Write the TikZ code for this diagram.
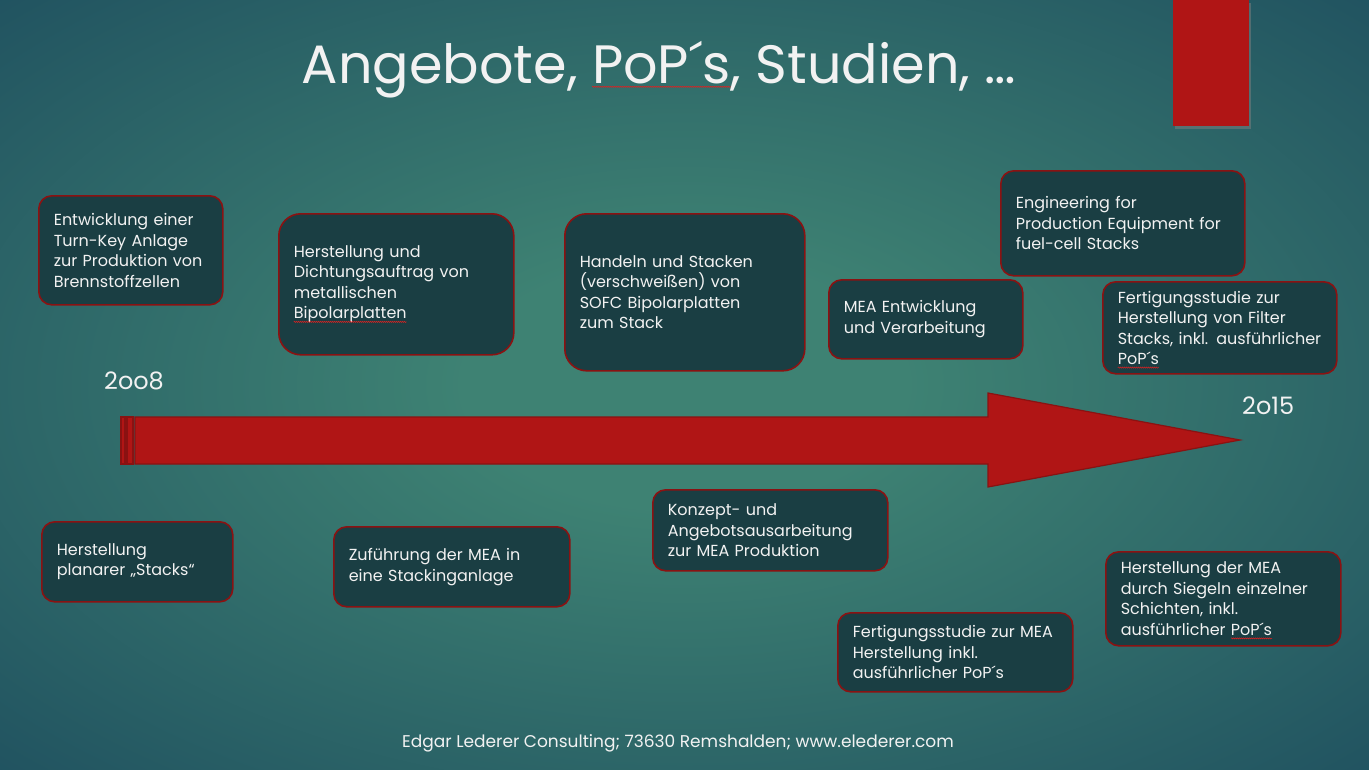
\documentclass[tikz,border=0pt]{standalone}
\usepackage{fontspec}
\setmainfont{Poppins}
\usetikzlibrary{shadows,decorations.pathmorphing}

\definecolor{bgin}{HTML}{3E8273}
\definecolor{bgout}{HTML}{17435A}
\definecolor{boxfill}{HTML}{1A3E43}
\definecolor{boxline}{HTML}{8A1212}
\definecolor{arrowred}{HTML}{B01515}
\definecolor{spellred}{HTML}{E02020}
\definecolor{txtwhite}{HTML}{F2F2F2}

\pgfdeclareradialshading{slideglow}{\pgfpoint{0bp}{0bp}}{color(0bp)=(bgin); color(8bp)=(bgin); color(45bp)=(bgout); color(72bp)=(bgout)}

\tikzset{
  milestone/.style={draw=boxline, line width=1.6pt, fill=boxfill, rounded corners=13pt,
    text=txtwhite, font=\fontsize{16}{20.5}\selectfont, align=left,
    inner xsep=15pt, inner ysep=0pt, anchor=north west},
  bigbox/.style={milestone, rounded corners=22pt},
  year/.style={text=txtwhite, font=\fontsize{24}{28}\selectfont, inner sep=0pt, anchor=west},
  timeline/.style={fill=arrowred, draw=boxline, line width=1.2pt},
  squiggle/.style={draw=spellred, sharp corners, line width=0.5pt, decorate,
    decoration={snake, amplitude=0.6pt, segment length=2pt}}
}

% red wavy line of the spell checker
\newsavebox\spellbox
\newcommand\spellmark[1]{\sbox\spellbox{#1}\usebox\spellbox%
  \tikz[overlay, baseline=0pt]{\path[squiggle] (-\wd\spellbox,-3pt) -- (0pt,-3pt);}}

\begin{document}
\begin{tikzpicture}[x=1pt, y=-1pt]
  \useasboundingbox (0,0) rectangle (1369,769);
  \shade[shading=slideglow] (0,0) rectangle (1369,769);

  % corner tab
  \fill[arrowred, drop shadow={opacity=0.5, shadow xshift=2pt, shadow yshift=-3pt}]
    (1173,0) rectangle (1249,126);

  \node[text=txtwhite, font=\fontsize{54}{64}\selectfont] (title) at (659,70)
    {Angebote, \spellmark{PoP´s}, Studien, …};

  % timeline arrow
  \path[timeline] (135,417) -- (988,417) -- (988,393) -- (1240,440) -- (988,487)
    -- (988,464) -- (135,464) -- cycle;
  \path[timeline] (121,417) rectangle (125,464);
  \path[timeline] (127,417) rectangle (133,464);

  \node[year] (start) at (104,381) {2oo8};
  \node[year] (end) at (1242,406) {2o15};

  % above the arrow
  \node[milestone, text width=154pt, minimum height=109pt] (turnkey) at (38,195)
    {Entwicklung einer\\Turn-Key Anlage\\zur Produktion von\\Brennstoffzellen};
  \node[bigbox, text width=205pt, minimum height=141pt] (bipolar) at (278,213)
    {Herstellung und\\Dichtungsauftrag von\\metallischen\\\spellmark{Bipolarplatten}};
  \node[bigbox, text width=210pt, minimum height=157pt] (sofc) at (564,213)
    {Handeln und Stacken\\(verschweißen) von\\SOFC Bipolarplatten\\zum Stack};
  \node[milestone, text width=164pt, minimum height=79pt] (meadev) at (828,279)
    {MEA Entwicklung\\und Verarbeitung};
  \node[milestone, text width=214pt, minimum height=105pt] (engineering) at (1000,170)
    {Engineering for\\Production Equipment for\\fuel-cell Stacks};
  \node[milestone, text width=204pt, minimum height=92pt] (filter) at (1102,281)
    {Fertigungsstudie zur\\Herstellung von Filter\\Stacks, inkl. ausführlicher\\\spellmark{PoP´s}};

  % below the arrow
  \node[milestone, text width=161pt, minimum height=80pt] (planar) at (41,521)
    {Herstellung\\planarer „Stacks“};
  \node[milestone, text width=206pt, minimum height=80pt] (feed) at (333,526)
    {Zuführung der MEA in\\eine Stackinganlage};
  \node[milestone, text width=205pt, minimum height=81pt] (concept) at (652,489)
    {Konzept- und\\Angebotsausarbeitung\\zur MEA Produktion};
  \node[milestone, text width=205pt, minimum height=79pt] (meastudy) at (837,612)
    {Fertigungsstudie zur MEA\\Herstellung inkl.\\ausführlicher PoP´s};
  \node[milestone, text width=205pt, minimum height=94pt] (sealing) at (1105,551)
    {Herstellung der MEA\\durch Siegeln einzelner\\Schichten, inkl.\\ausführlicher \spellmark{PoP´s}};

  \node[text=txtwhite, font=\fontsize{17}{20}\selectfont] (footer) at (678,743)
    {Edgar Lederer Consulting; 73630 Remshalden; www.elederer.com};
\end{tikzpicture}
\end{document}
